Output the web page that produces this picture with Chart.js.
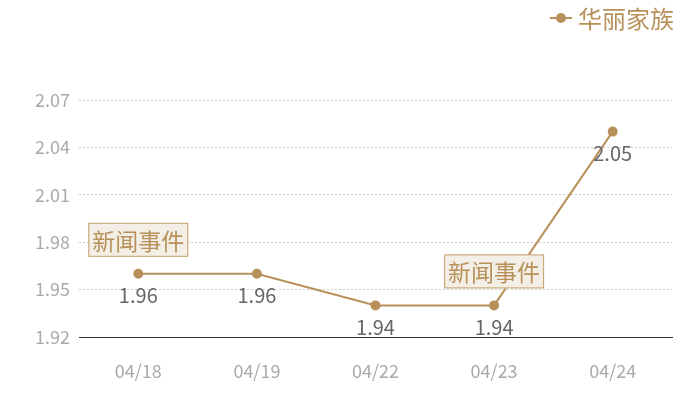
<!DOCTYPE html>
<html><head><meta charset="utf-8">
<script src="https://cdn.jsdelivr.net/npm/chart.js@4"></script>
<style>html,body{margin:0;padding:0;background:#fff}#w{width:700px;height:400px}</style>
</head><body><div id="w"><canvas id="c"></canvas></div>
<script>
const categories = ['04/18','04/19','04/22','04/23','04/24'];
const values = [1.96, 1.96, 1.94, 1.94, 2.05];
const yTicks = [1.92, 1.95, 1.98, 2.01, 2.04, 2.07];
const seriesName = '华丽家族';
const eventIndices = [0, 3];
const eventText = '新闻事件';

const GOLD = '#b8915a';
const FONT = '"Noto Sans CJK SC", "Noto Sans", sans-serif';

const overlay = {
  id: 'overlay',
  afterDatasetsDraw(chart) {
    const ctx = chart.ctx;
    const meta = chart.getDatasetMeta(0);
    ctx.save();
    // data labels
    ctx.font = '20px ' + FONT;
    ctx.fillStyle = '#666';
    ctx.textAlign = 'center';
    ctx.textBaseline = 'middle';
    meta.data.forEach((p, i) => {
      ctx.fillText(values[i].toFixed(2), p.x, p.y + 22);
    });
    // event boxes
    ctx.font = '23px ' + FONT;
    eventIndices.forEach(i => {
      const p = meta.data[i];
      const w = 100, h = 34;
      const cx = p.x, cy = p.y - 34;
      ctx.fillStyle = '#f4efe6';
      ctx.fillRect(cx - w/2, cy - h/2, w, h);
      ctx.strokeStyle = '#c4a06a';
      ctx.lineWidth = 1;
      ctx.strokeRect(cx - w/2 + 0.5, cy - h/2 + 0.5, w - 1, h - 1);
      ctx.fillStyle = GOLD;
      ctx.fillText(eventText, cx, cy + 1);
    });
    // legend
    ctx.strokeStyle = GOLD;
    ctx.lineWidth = 2;
    ctx.beginPath(); ctx.moveTo(550, 18); ctx.lineTo(572, 18); ctx.stroke();
    ctx.fillStyle = GOLD;
    ctx.beginPath(); ctx.arc(561, 18, 5, 0, Math.PI*2); ctx.fill();
    ctx.font = '24px ' + FONT;
    ctx.textAlign = 'left';
    ctx.fillText(seriesName, 578, 19);
    ctx.restore();
  }
};

new Chart(document.getElementById('c'), {
  type: 'line',
  data: {
    labels: categories,
    datasets: [{
      label: seriesName,
      data: values,
      borderColor: GOLD,
      backgroundColor: GOLD,
      borderWidth: 2,
      pointRadius: 4,
      pointHoverRadius: 4,
      tension: 0
    }]
  },
  options: {
    responsive: true,
    maintainAspectRatio: false,
    animation: false,
    layout: { padding: { top: 100, right: 28, left: 0, bottom: 0 } },
    plugins: { legend: { display: false }, tooltip: { enabled: false } },
    scales: {
      x: {
        offset: true,
        grid: { display: false, drawTicks: false },
        border: { display: true, color: '#333', width: 1 },
        ticks: { color: '#aaa', font: { family: FONT, size: 18 }, padding: 23 },
        afterFit(s) { s.height = 63; }
      },
      y: {
        min: 1.92, max: 2.07,
        afterBuildTicks(s) { s.ticks = yTicks.map(v => ({ value: v })); },
        grid: { color: '#ccc', drawTicks: false, lineWidth: 1 },
        border: { display: false, dash: [2, 2] },
        ticks: { color: '#aaa', font: { family: FONT, size: 18 }, padding: 9,
          callback: v => v.toFixed(2) },
        afterFit(s) { s.width = 79; }
      }
    }
  },
  plugins: [overlay]
});
</script></body></html>
